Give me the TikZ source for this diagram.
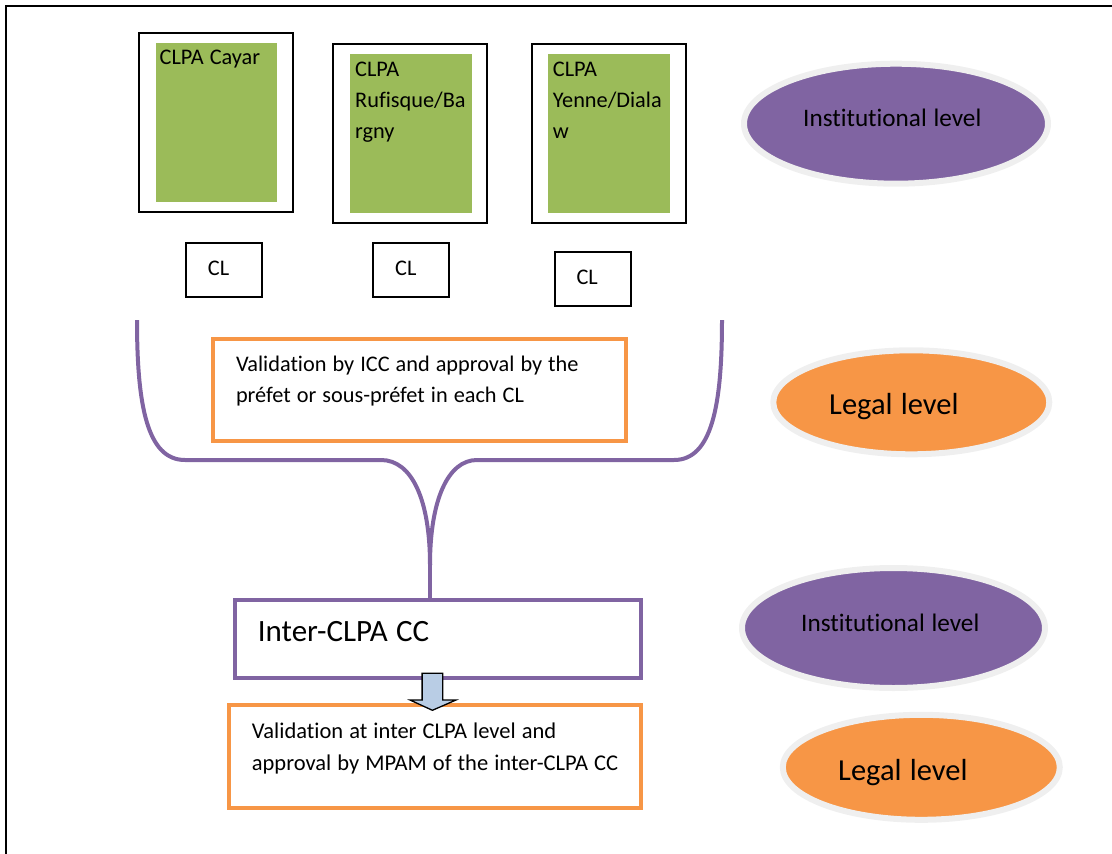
\documentclass[tikz,border=0pt]{standalone}
\usepackage{fontspec}
\setmainfont{Carlito}[Ligatures=CommonOff]
\usetikzlibrary{shapes.geometric,calc}

\definecolor{clpagreen}{HTML}{9BBB59}
\definecolor{instpurple}{HTML}{8064A2}
\definecolor{legalorange}{HTML}{F79646}
\definecolor{ringgray}{HTML}{EFEFEF}
\definecolor{arrowblue}{HTML}{B9CDE5}

% font size with a fixed word space
\newcommand\setsz[2]{\fontsize{#1}{#2}\selectfont\spaceskip=0.27em\relax}

\tikzset{
  blackbox/.style={draw=black, line width=2, inner sep=0, fill=white},
  greenbox/.style={fill=clpagreen, draw=none, inner sep=0},
  clbox/.style={draw=black, line width=2, inner sep=0, minimum width=76, minimum height=54},
  orangebox/.style={draw=legalorange, line width=4, inner sep=0},
  purplebox/.style={draw=instpurple, line width=4, inner sep=0},
  purpleline/.style={draw=instpurple, line width=4},
  instlevel/.style={ellipse, fill=instpurple, draw=ringgray, line width=6, inner sep=0},
  legallevel/.style={ellipse, fill=legalorange, draw=ringgray, line width=6, inner sep=0},
  txt/.style={anchor=base west, inner sep=0, text width=#1, align=flush left},
  txt/.default=150,
  small/.style={font=\setsz{22.3}{31}},
}

\begin{document}
\begin{tikzpicture}[x=1pt, y=-1pt]
\useasboundingbox (0,0) rectangle (1112,854);

% page frame (runs off the right and bottom edges)
\draw[line width=2] (1120,6) -- (6,6) -- (6,860);

% CLPA boxes
\node[blackbox, minimum width=154, minimum height=179] (b1) at (215.5,122.5) {};
\node[greenbox, minimum width=121, minimum height=159] (g1) at (216.3,122.4) {};
\node[small, txt] (t1) at (159.5,64) {CLPA Cayar};

\node[blackbox, minimum width=154, minimum height=179] (b2) at (410.3,133) {};
\node[greenbox, minimum width=122, minimum height=159] (g2) at (410.9,133.4) {};
\node[small, txt=120] (t2) at (355,76) {CLPA\\Rufisque/Ba\\rgny};

\node[blackbox, minimum width=154, minimum height=179] (b3) at (608.8,133) {};
\node[greenbox, minimum width=122, minimum height=159] (g3) at (609,133.4) {};
\node[small, txt=120] (t3) at (552.7,76) {CLPA\\Yenne/Diala\\w};

% CL boxes
\node[clbox] (cl1) at (224.2,269.7) {};
\node[small, txt=40] (cl1t) at (207.7,275) {CL};
\node[clbox] (cl2) at (411.3,269.7) {};
\node[small, txt=40] (cl2t) at (395,275) {CL};
\node[clbox] (cl3) at (593.1,278.7) {};
\node[small, txt=40] (cl3t) at (576.4,284) {CL};

% first validation step
\node[orangebox, minimum width=413, minimum height=102] (val1) at (419.5,389.9) {};
\node[small, txt=400] (val1t) at (235.8,371.7)
  {Validation by ICC and approval by the\\préfet or sous-préfet in each CL};

% inter-CLPA body
\node[purplebox, minimum width=406, minimum height=78] (inter) at (438.3,639.2) {};
\node[txt=300, font=\setsz{31}{37}] (intert) at (257.7,641.7) {Inter-CLPA CC};

% second validation step
\node[orangebox, minimum width=412, minimum height=103] (val2) at (435.3,756.5) {};
\node[txt=400, font=\setsz{22.5}{32}] (val2t) at (251.7,738)
  {Validation at inter CLPA level and\\approval by MPAM of the inter-CLPA CC};

% funnel joining the three CLPA into the inter-CLPA body
\coordinate (fl) at (137,320);
\coordinate (fr) at (722,320);
\coordinate (stem) at (430,565);
\draw[purpleline] (fl) .. controls (137,405) and (147,460) .. (185,460)
  -- (381,460) .. controls (412,460) and (430,500) .. (stem);
\draw[purpleline] (fr) .. controls (722,405) and (712,460) .. (674,460)
  -- (477,460) .. controls (448,460) and (430,500) .. (stem);
\draw[purpleline] (stem) -- (inter.north -| stem);

% block arrow from the inter-CLPA body to its validation
\coordinate (ar) at (432.4,673.3);
\draw[fill=arrowblue, draw=black, line width=1.3, line join=miter]
  ($(ar)+(-10.3,0)$) -- ($(ar)+(10.3,0)$) -- ($(ar)+(10.3,26.7)$) -- ($(ar)+(23.6,26.7)$)
  -- ($(ar)+(0,37)$) -- ($(ar)+(-22.4,26.7)$) -- ($(ar)+(-10.3,26.7)$) -- cycle;

% level labels
\node[instlevel, minimum width=304, minimum height=120] (lev1) at (896,123.7) {};
\node[txt=250, font=\setsz{25.2}{30}] (lev1t) at (803,126.7) {Institutional level};
\node[legallevel, minimum width=276, minimum height=104] (lev2) at (911.3,402.3) {};
\node[txt=250, font=\setsz{30.5}{36}] (lev2t) at (829,414.3) {Legal level};
\node[instlevel, minimum width=303, minimum height=120] (lev3) at (893.5,628) {};
\node[txt=250, font=\setsz{25.2}{30}] (lev3t) at (801,631.7) {Institutional level};
\node[legallevel, minimum width=277, minimum height=105] (lev4) at (921.3,767.3) {};
\node[txt=250, font=\setsz{30.5}{36}] (lev4t) at (838,780) {Legal level};
\end{tikzpicture}
\end{document}
